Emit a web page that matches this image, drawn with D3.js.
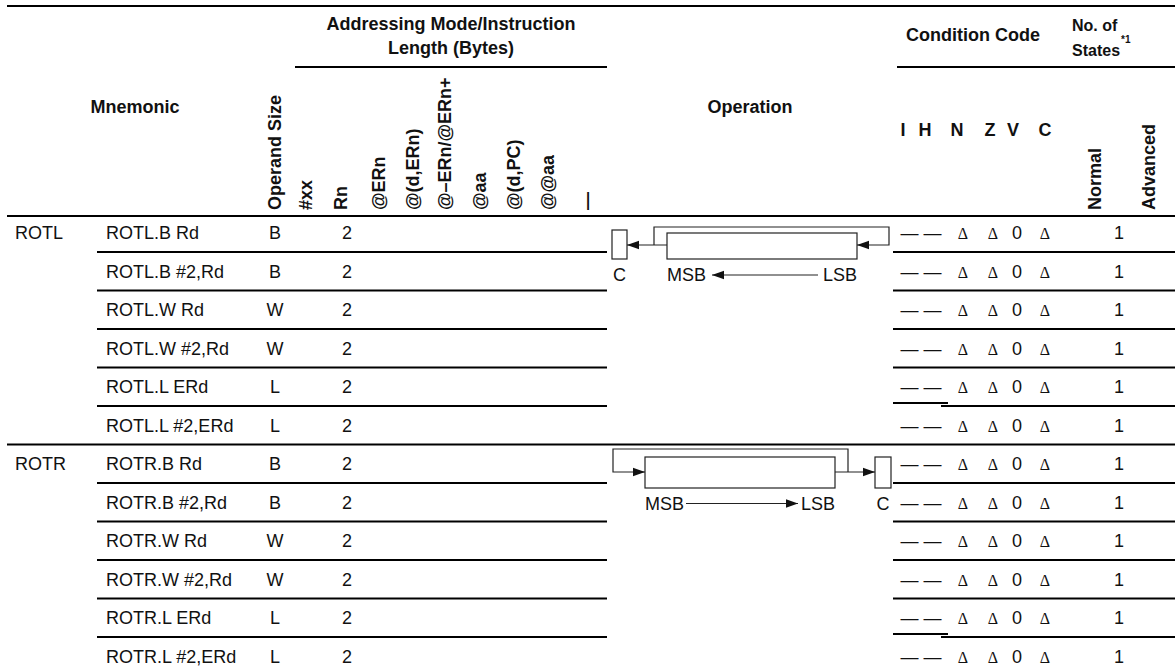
<!DOCTYPE html>
<html>
<head>
<meta charset="utf-8">
<script src="https://cdn.jsdelivr.net/npm/d3@7"></script>
<style>
  html, body { margin: 0; padding: 0; background: #fff; }
  svg { display: block; }
  text { font-family: "Liberation Sans", Arial, Helvetica, sans-serif; fill: #111; }
  .b { font-weight: bold; }
</style>
</head>
<body>
<svg id="chart" width="1175" height="672"></svg>
<script>
// ---------------- data ----------------
const groups = ["ROTL", "ROTR"];
const groupRows = [0, 6];
const mnemonics = ["ROTL.B Rd", "ROTL.B #2,Rd", "ROTL.W Rd", "ROTL.W #2,Rd", "ROTL.L ERd", "ROTL.L #2,ERd",
                   "ROTR.B Rd", "ROTR.B #2,Rd", "ROTR.W Rd", "ROTR.W #2,Rd", "ROTR.L ERd", "ROTR.L #2,ERd"];
const operandSizes = ["B", "B", "W", "W", "L", "L", "B", "B", "W", "W", "L", "L"];
const rnLengths = [2, 2, 2, 2, 2, 2, 2, 2, 2, 2, 2, 2];
const addrModes = ["#xx", "Rn", "@ERn", "@(d,ERn)", "@\u2013ERn/@ERn+", "@aa", "@(d,PC)", "@@aa", "\u2014"];
const ccFlags = ["I", "H", "N", "Z", "V", "C"];
const ccValues = ["\u2014", "\u2014", "\u0394", "\u0394", "0", "\u0394"];
const normalStates = [1, 1, 1, 1, 1, 1, 1, 1, 1, 1, 1, 1];

// ---------------- scales ----------------
const W = 1175;
const rowIdx = d3.range(mnemonics.length);
const y = d3.scaleBand().domain(rowIdx).range([213.5, 213.5 + 38.5 * mnemonics.length]);
const yc = i => y(i) + y.bandwidth() / 2;

const colX = d3.scaleOrdinal()
  .domain(["group", "mnemonic", "size", ...addrModes, "normal", "advanced"])
  .range([15, 106, 275, 306, 341, 379, 413, 445, 480, 514, 548, 587, 1095, 1149]);
const ccHeadX = d3.scaleOrdinal().domain(d3.range(6)).range([903, 925, 957, 990, 1013, 1045]);
const ccDataX = d3.scaleOrdinal().domain(d3.range(6)).range([909.5, 932.5, 963, 993, 1017, 1045]);

const svg = d3.select("#chart");
const FS = 18;

// ---------------- rules ----------------
function hline(x1, x2, yy, w) {
  svg.append("line").attr("x1", x1).attr("x2", x2).attr("y1", yy).attr("y2", yy)
    .attr("stroke", "#000").attr("stroke-width", w || 2);
}
hline(7, W, 6);
hline(295, 607, 67);
hline(897, W, 67);
hline(7, W, 216);

rowIdx.slice(1).forEach(i => {
  const yy = y(i);
  if (groupRows.includes(i)) {
    hline(7, W, yy);
  } else {
    hline(97, 607, yy);
    if (operandSizes[i - 1] === "L" && operandSizes[i] === "L") {
      hline(893, 948, yy - 3);
      hline(941, W, yy);
    } else {
      hline(893, W, yy);
    }
  }
});

// ---------------- header ----------------
const hdr = svg.append("g").attr("class", "b").style("font-size", FS + "px");
hdr.append("text").attr("x", 451).attr("y", 30).attr("text-anchor", "middle").text("Addressing Mode/Instruction");
hdr.append("text").attr("x", 451).attr("y", 54).attr("text-anchor", "middle").text("Length (Bytes)");
hdr.append("text").attr("x", 135).attr("y", 113).attr("text-anchor", "middle").text("Mnemonic");
hdr.append("text").attr("x", 750).attr("y", 113).attr("text-anchor", "middle").text("Operation");
hdr.append("text").attr("x", 973).attr("y", 41).attr("text-anchor", "middle").text("Condition Code");
hdr.append("text").attr("x", 1072).attr("y", 31).style("font-size", "16px").text("No. of");
hdr.append("text").attr("x", 1072).attr("y", 56).style("font-size", "16px").text("States");
hdr.append("text").attr("x", 1121).attr("y", 43).style("font-size", "10px").text("*1");

const rotHeads = [["size", "Operand Size"], ...addrModes.map(m => [m, m]), ["normal", "Normal"], ["advanced", "Advanced"]];
hdr.selectAll("text.rot").data(rotHeads).join("text")
  .attr("class", "rot")
  .attr("transform", d => `translate(${colX(d[0])},210) rotate(-90)`)
  .attr("dy", "0.36em")
  .text(d => d[1]);

hdr.selectAll("text.cch").data(ccFlags).join("text")
  .attr("class", "cch")
  .attr("x", (d, i) => ccHeadX(i)).attr("y", 136).attr("text-anchor", "middle")
  .text(d => d);

// ---------------- body ----------------
const body = svg.append("g").style("font-size", FS + "px");
body.selectAll("text.grp").data(groups).join("text").attr("class", "grp")
  .attr("x", colX("group")).attr("y", (d, i) => yc(groupRows[i]) + 6.5).text(d => d);
body.selectAll("text.mn").data(mnemonics).join("text").attr("class", "mn")
  .attr("x", colX("mnemonic")).attr("y", (d, i) => yc(i) + 6.5).text(d => d);
body.selectAll("text.sz").data(operandSizes).join("text").attr("class", "sz")
  .attr("x", colX("size")).attr("y", (d, i) => yc(i) + 6.5).attr("text-anchor", "middle").text(d => d);
body.selectAll("text.rn").data(rnLengths).join("text").attr("class", "rn")
  .attr("x", colX("Rn") + 6).attr("y", (d, i) => yc(i) + 6.5).attr("text-anchor", "middle").text(d => d);
body.selectAll("text.ns").data(normalStates).join("text").attr("class", "ns")
  .attr("x", colX("normal") + 24).attr("y", (d, i) => yc(i) + 6.5).attr("text-anchor", "middle").text(d => d);

rowIdx.forEach(i => {
  ccValues.forEach((v, j) => {
    const t = body.append("text").attr("x", ccDataX(j)).attr("y", yc(i) + 6.5)
      .attr("text-anchor", "middle").text(v);
    if (v === "\u0394") t.style("font-family", "'Liberation Serif', serif").style("font-size", "16px");
  });
});

// ---------------- operation diagrams ----------------
const defs = svg.append("defs");
defs.append("marker").attr("id", "ah").attr("viewBox", "0 0 10 10").attr("refX", 10).attr("refY", 5)
  .attr("markerWidth", 12).attr("markerHeight", 12).attr("markerUnits", "userSpaceOnUse")
  .attr("orient", "auto")
  .append("path").attr("d", "M0,1.5 L10,5 L0,8.5 Z").attr("fill", "#111");

const op = svg.append("g").attr("stroke", "#222").attr("stroke-width", 1.2).attr("fill", "none");
function pl(pts, arrow) {
  const p = op.append("path").attr("d", d3.line()(pts));
  if (arrow) p.attr("marker-end", "url(#ah)");
}
const lbl = svg.append("g").style("font-size", FS + "px");

// ROTL diagram
(function () {
  const top = 227, by0 = 233, by1 = 259, ay = 245;
  op.append("rect").attr("x", 612).attr("y", 230).attr("width", 15).attr("height", by1 - 230);
  op.append("rect").attr("x", 667).attr("y", by0).attr("width", 190).attr("height", by1 - by0);
  pl([[667, ay], [627, ay]], true);
  pl([[654, ay], [654, top], [889, top], [889, ay], [857, ay]], true);
  const ly = 281;
  lbl.append("text").attr("x", 619.5).attr("y", ly).attr("text-anchor", "middle").text("C");
  lbl.append("text").attr("x", 667).attr("y", ly).text("MSB");
  lbl.append("text").attr("x", 857).attr("y", ly).attr("text-anchor", "end").text("LSB");
  pl([[818, ly - 6], [712, ly - 6]], true);
})();

// ROTR diagram
(function () {
  const top = 449, by0 = 457, by1 = 488, ay = 472;
  op.append("rect").attr("x", 645).attr("y", by0).attr("width", 190).attr("height", by1 - by0);
  op.append("rect").attr("x", 875).attr("y", by0).attr("width", 16).attr("height", by1 - by0);
  pl([[848, ay], [848, top], [613, top], [613, ay], [645, ay]], true);
  pl([[835, ay], [875, ay]], true);
  const ly = 509.5;
  lbl.append("text").attr("x", 883).attr("y", ly).attr("text-anchor", "middle").text("C");
  lbl.append("text").attr("x", 645).attr("y", ly).text("MSB");
  lbl.append("text").attr("x", 835).attr("y", ly).attr("text-anchor", "end").text("LSB");
  pl([[686, ly - 6], [798, ly - 6]], true);
})();
</script>
</body>
</html>
